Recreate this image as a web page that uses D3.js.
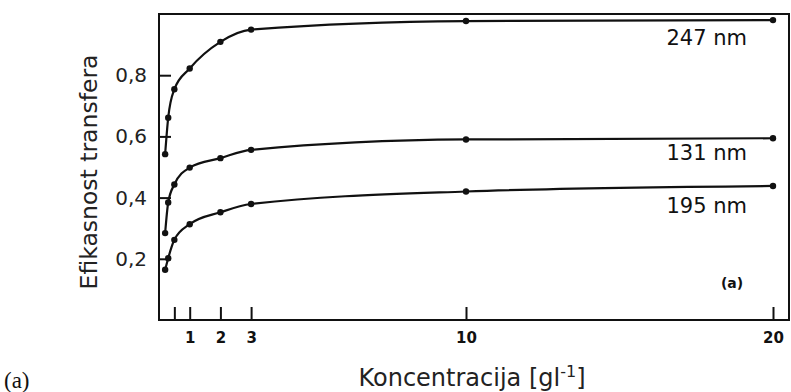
<!DOCTYPE html>
<html><head><meta charset="utf-8">
<script src="https://cdn.jsdelivr.net/npm/d3@7"></script>
<style>body{margin:0;background:#fff}svg{display:block}</style>
</head><body>
<svg id="c" width="791" height="392"></svg>
<script>
// Data
const concentration = [0.2, 0.3, 0.5, 1, 2, 3, 10, 20];
const eff247 = [0.542, 0.661, 0.754, 0.822, 0.909, 0.949, 0.977, 0.980];
const eff131 = [0.284, 0.384, 0.443, 0.498, 0.529, 0.556, 0.590, 0.594];
const eff195 = [0.164, 0.202, 0.262, 0.313, 0.352, 0.379, 0.420, 0.438];
const seriesLabels = ["247 nm", "131 nm", "195 nm"];
const xTicks = [0.5, 1, 2, 3, 10, 20];
const xTickLabels = ["", "1", "2", "3", "10", "20"];
const yTicks = [0.2, 0.4, 0.6, 0.8];

const svg = d3.select("#c");
const L = 159, R = 789, T = 14, B = 320;
const x = d3.scaleLinear().domain([0, 20]).range([L, 773]);
const y = d3.scaleLinear().domain([0, 1]).range([B, T]);

// frame
svg.append("rect").attr("x", L).attr("y", T).attr("width", R - L).attr("height", B - T)
  .attr("fill", "none").attr("stroke", "#111").attr("stroke-width", 2);

// y axis
const ya = svg.append("g").attr("transform", `translate(${L},0)`)
  .call(d3.axisLeft(y).tickValues(yTicks).tickSize(-12).tickPadding(12)
    .tickFormat(d => d3.format(".1f")(d).replace(".", ",")));
ya.select(".domain").remove();
ya.selectAll("line").attr("stroke", "#111").attr("stroke-width", 2);
ya.selectAll("text").attr("font-family", "DejaVu Sans").attr("font-size", 20).attr("fill", "#222");

// x axis
const xa = svg.append("g").attr("transform", `translate(0,${B})`)
  .call(d3.axisBottom(x).tickValues(xTicks).tickSize(-13).tickPadding(12)
    .tickFormat((d, i) => xTickLabels[i]));
xa.select(".domain").remove();
xa.selectAll("line").attr("stroke", "#111").attr("stroke-width", 2);
xa.selectAll("text").attr("font-family", "DejaVu Sans").attr("font-weight", "bold")
  .attr("font-size", 15).attr("fill", "#111");

// series
const allSeries = [eff247, eff131, eff195];
const line = d3.line().x((d, i) => x(concentration[i])).y(d => y(d)).curve(d3.curveMonotoneX);
allSeries.forEach(s => {
  svg.append("path").attr("d", line(s)).attr("fill", "none")
    .attr("stroke", "#111").attr("stroke-width", 2.2);
  svg.append("g").selectAll("circle").data(s).join("circle")
    .attr("cx", (d, i) => x(concentration[i])).attr("cy", d => y(d))
    .attr("r", 3.2).attr("fill", "#111");
});

// series labels
const labelDy = [25, 22, 27];
allSeries.forEach((s, k) => {
  svg.append("text").attr("x", x(20) - 26).attr("y", y(s[s.length - 1]) + labelDy[k])
    .attr("text-anchor", "end").attr("font-family", "DejaVu Sans").attr("font-size", 21)
    .attr("fill", "#111").text(seriesLabels[k]);
});

// inner (a)
svg.append("text").attr("x", 732).attr("y", 288).attr("text-anchor", "middle")
  .attr("font-family", "DejaVu Sans").attr("font-weight", "bold").attr("font-size", 14)
  .attr("fill", "#111").text("(a)");

// axis titles
svg.append("text").attr("transform", "translate(97,172) rotate(-90)")
  .attr("text-anchor", "middle").attr("font-family", "DejaVu Sans").attr("font-size", 23.5)
  .attr("fill", "#222").text("Efikasnost transfera");

const xt = svg.append("text").attr("x", 472).attr("y", 386).attr("text-anchor", "middle")
  .attr("font-family", "DejaVu Sans").attr("font-size", 24).attr("fill", "#222");
xt.append("tspan").text("Koncentracija [gl");
xt.append("tspan").attr("font-size", 16).attr("dy", -9).text("-1");
xt.append("tspan").attr("dy", 9).text("]");

// outer (a)
svg.append("text").attr("x", 4).attr("y", 388).attr("font-family", "Liberation Serif")
  .attr("font-size", 23).attr("fill", "#111").text("(a)");
</script>
</body></html>
